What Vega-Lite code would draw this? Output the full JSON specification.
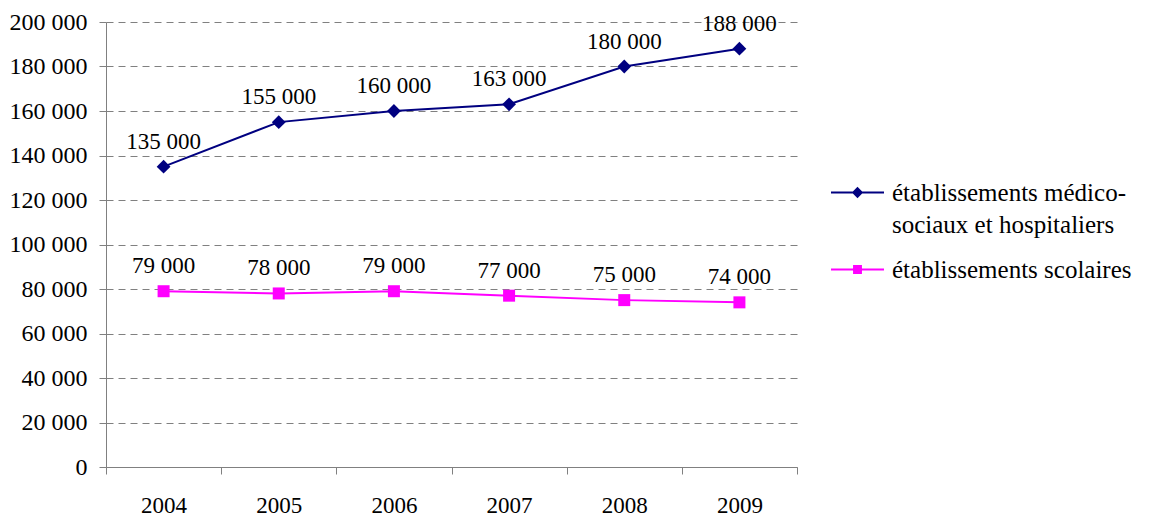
{
  "$schema": "https://vega.github.io/schema/vega-lite/v6.json",
  "autosize": "none",
  "width": 691,
  "height": 445,
  "padding": {"left": 106, "top": 22, "right": 352, "bottom": 50},
  "config": {
    "locale": {"number": {"decimal": ",", "thousands": " ", "grouping": [3], "currency": ["", " €"]}},
    "font": "Liberation Serif",
    "view": {"stroke": null},
    "axis": {"labelFont": "Liberation Serif", "labelColor": "#000000", "domainColor": "#808080", "tickColor": "#808080", "tickSize": 7}
  },
  "data": {"values": [
    {"annee": "2004", "serie": "établissements médico-sociaux et hospitaliers", "valeur": 135000},
    {"annee": "2005", "serie": "établissements médico-sociaux et hospitaliers", "valeur": 155000},
    {"annee": "2006", "serie": "établissements médico-sociaux et hospitaliers", "valeur": 160000},
    {"annee": "2007", "serie": "établissements médico-sociaux et hospitaliers", "valeur": 163000},
    {"annee": "2008", "serie": "établissements médico-sociaux et hospitaliers", "valeur": 180000},
    {"annee": "2009", "serie": "établissements médico-sociaux et hospitaliers", "valeur": 188000},
    {"annee": "2004", "serie": "établissements scolaires", "valeur": 79000},
    {"annee": "2005", "serie": "établissements scolaires", "valeur": 78000},
    {"annee": "2006", "serie": "établissements scolaires", "valeur": 79000},
    {"annee": "2007", "serie": "établissements scolaires", "valeur": 77000},
    {"annee": "2008", "serie": "établissements scolaires", "valeur": 75000},
    {"annee": "2009", "serie": "établissements scolaires", "valeur": 74000}
  ]},
  "encoding": {
    "x": {"field": "annee", "type": "ordinal", "title": null,
      "scale": {"paddingInner": 0, "paddingOuter": 0},
      "axis": {"labelAngle": 0, "tickBand": "extent", "labelPadding": 20, "labelFontSize": 23, "grid": false}},
    "y": {"field": "valeur", "type": "quantitative", "title": null,
      "scale": {"domain": [0, 200000], "nice": false},
      "axis": {"values": [0, 20000, 40000, 60000, 80000, 100000, 120000, 140000, 160000, 180000, 200000],
        "format": ",d", "labelPadding": 12, "labelFontSize": 24, "grid": true, "gridColor": "#808080", "gridDash": [7, 5], "gridWidth": 1}},
    "color": {"field": "serie", "type": "nominal",
      "scale": {"domain": ["établissements médico-sociaux et hospitaliers", "établissements scolaires"], "range": ["#000080", "#FF00FF"]},
      "legend": {"title": null, "orient": "none", "legendX": 724, "legendY": 143,
        "labelFont": "Liberation Serif", "labelFontSize": 25, "labelColor": "#000000", "labelLimit": 400,
        "labelOffset": 7, "rowPadding": 4, "labelBaseline": "middle",
        "symbolSize": 2809, "symbolStrokeWidth": 2,
        "labelExpr": "datum.label == 'établissements médico-sociaux et hospitaliers' ? ['établissements médico-', 'sociaux et hospitaliers'] : datum.label",
        "encode": {
          "labels": {"update": {"lineHeight": {"value": 32}}},
          "symbols": {"update": {
            "shape": {"signal": "datum.value == 'établissements scolaires' ? 'M-1,0H1M-0.13,-0.13H0.13V0.13H-0.13Z' : 'M-1,0H1M0,-0.16L0.16,0L0,0.16L-0.16,0Z'"},
            "fill": {"signal": "scale('color', datum.value)"},
            "stroke": {"signal": "scale('color', datum.value)"},
            "strokeWidth": {"value": 2}
          }}}}
    }
  },
  "layer": [
    {"mark": {"type": "line", "strokeWidth": 2}},
    {"transform": [{"filter": "datum.serie == 'établissements médico-sociaux et hospitaliers'"}],
      "mark": {"type": "point", "filled": true, "opacity": 1, "shape": "diamond", "size": 190}},
    {"transform": [{"filter": "datum.serie == 'établissements scolaires'"}],
      "mark": {"type": "point", "filled": true, "opacity": 1, "shape": "square", "size": 144}},
    {"mark": {"type": "text", "font": "Liberation Serif", "fontSize": 23, "baseline": "alphabetic", "dy": -18},
      "encoding": {"text": {"field": "valeur", "type": "quantitative", "format": ",d"}, "color": {"value": "#000000"}}}
  ]
}
